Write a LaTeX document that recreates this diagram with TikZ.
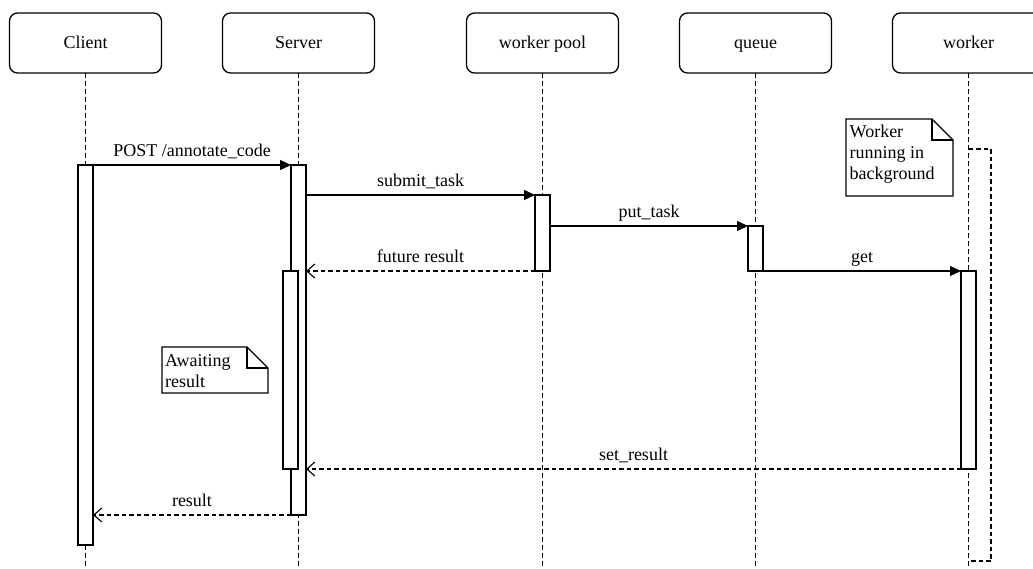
\documentclass[tikz,border=0pt]{standalone}
\usepackage{fontspec}
\setmainfont{Liberation Serif}
\usetikzlibrary{arrows.meta}
\begin{document}
\begin{tikzpicture}[x=1pt,y=-1pt,
  every node/.style={font=\fontsize{18}{21}\selectfont},
  hdr/.style={draw, line width=1.3pt, rounded corners=8pt, minimum width=152pt, minimum height=60pt, inner sep=0pt, outer sep=0pt, text height=13pt, text depth=2pt},
  life/.style={line width=1.1pt, dash pattern=on 4.5pt off 3.5pt},
  act/.style={draw, fill=white, line width=1.3pt, minimum width=15pt, inner sep=0pt, outer sep=0pt},
  sync/.style={line width=1.3pt, -{Triangle[length=11pt,width=10pt]}},
  ret/.style={line width=1.1pt, dash pattern=on 4.5pt off 3pt, -{Straight Barb[length=8pt,width=14pt,line width=1.1pt]}},
  loopline/.style={line width=1.1pt, dash pattern=on 4.5pt off 3pt},
  lbl/.style={midway, anchor=base, yshift=9pt, inner sep=0pt},
  notetext/.style={anchor=north west, align=left, inner sep=0pt},
  noteline/.style={line width=1.3pt, line join=miter}
]
\useasboundingbox (0,0) rectangle (1033,568);
\clip (0,0) rectangle (1033,568);

% headers
\node[hdr] (hC) at (85.5,43) {Client};
\node[hdr] (hS) at (298.5,43) {Server};
\node[hdr] (hP) at (542.5,43) {worker pool};
\node[hdr] (hQ) at (755.5,43) {queue};
\node[hdr] (hW) at (968.5,43) {worker};

% lifeline ends
\coordinate (eC) at (85.5,568);
\coordinate (eS) at (298.5,568);
\coordinate (eP) at (542.5,568);
\coordinate (eQ) at (755.5,568);
\coordinate (eW) at (968.5,568);
\draw[life] (hC.south) -- (eC);
\draw[life] (hS.south) -- (eS);
\draw[life] (hP.south) -- (eP);
\draw[life] (hQ.south) -- (eQ);
\draw[life] (hW.south) -- (eW);

% worker background loop
\coordinate (lt) at (968.5,149);
\coordinate (lb) at (968.5,561);
\draw[loopline] (lt) -- ++(22.5,0) |- (lb);

% activations
\node[act, minimum height=380pt] (aC) at (85.5,355) {};
\node[act, minimum height=350pt] (aS) at (298.5,340) {};
\node[act, minimum height=198pt] (aS2) at (290.5,370) {};
\node[act, minimum height=76pt] (aP) at (542.5,233) {};
\node[act, minimum height=45pt] (aQ) at (755.5,248.5) {};
\node[act, minimum height=198pt] (aW) at (968.5,370) {};

% messages
\draw[sync] (aC.north east) -- node[lbl]{POST /annotate\_code} (aS.north west);
\draw[sync] (aS.east |- aP.north) -- node[lbl]{submit\_task} (aP.north west);
\draw[ret] (aP.south west) -- node[lbl]{future result} (aS.east |- aP.south);
\draw[sync] (aP.east |- aQ.north) -- node[lbl]{put\_task} (aQ.north west);
\draw[sync] (aQ.south east) -- node[lbl]{get} (aW.north west);
\draw[ret] (aW.south west) -- node[lbl]{set\_result} (aS.east |- aW.south);
\draw[ret] (aS.south west) -- node[lbl]{result} (aC.east |- aS.south);

% notes
\draw[noteline] (846,119) -- (932,119) -- (953,140) -- (953,196) -- (846,196) -- cycle;
\draw[noteline] (932,119) |- (953,140);
\node[notetext] (nW) at (849.5,124.5) {Worker\\running in\\background};

\draw[noteline] (162,347) -- (247,347) -- (268,368) -- (268,393) -- (162,393) -- cycle;
\draw[noteline] (247,347) |- (268,368);
\node[notetext] (nA) at (165,354) {Awaiting\\result};
\end{tikzpicture}
\end{document}
